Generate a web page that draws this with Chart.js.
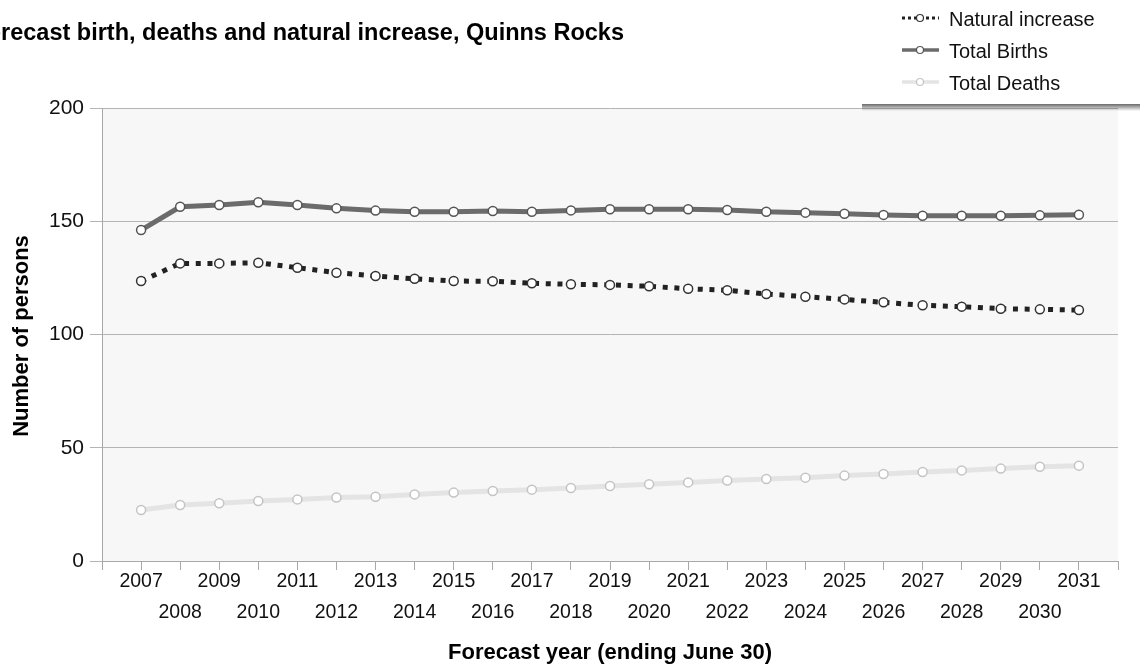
<!DOCTYPE html>
<html>
<head>
<meta charset="utf-8">
<title>Forecast birth, deaths and natural increase, Quinns Rocks</title>
<script src="https://cdn.jsdelivr.net/npm/chart.js@4/dist/chart.umd.min.js"></script>
<style>
  html, body { margin: 0; padding: 0; background: #fff; }
  #wrap { position: relative; width: 1145px; height: 670px; }
</style>
</head>
<body>
<div id="wrap"><canvas id="chart"></canvas></div>
<script>
// forecast years (ending June 30)
const years = [2007, 2008, 2009, 2010, 2011, 2012, 2013, 2014, 2015, 2016, 2017, 2018, 2019,
               2020, 2021, 2022, 2023, 2024, 2025, 2026, 2027, 2028, 2029, 2030, 2031];

const naturalIncrease = [123.6, 131.4, 131.4, 131.7, 129.5, 127.3, 125.8, 124.6, 123.6, 123.5, 122.6, 122.2, 121.9,
                         121.3, 120.2, 119.5, 117.9, 116.7, 115.5, 114.2, 112.9, 112.3, 111.4, 111.1, 110.8];
const totalBirths = [146.1, 156.4, 157.2, 158.4, 157.2, 155.7, 154.7, 154.2, 154.2, 154.5, 154.2, 154.8, 155.3,
                     155.3, 155.3, 155.0, 154.2, 153.8, 153.3, 152.8, 152.4, 152.4, 152.4, 152.6, 152.9];
const totalDeaths = [22.5, 24.7, 25.5, 26.5, 27.2, 28.0, 28.4, 29.4, 30.2, 30.9, 31.5, 32.2, 33.1,
                     33.9, 34.7, 35.5, 36.2, 36.8, 37.7, 38.4, 39.3, 40.0, 40.8, 41.6, 42.1];

const seriesNames = ['Natural increase', 'Total Births', 'Total Deaths'];
const yTicks = [0, 50, 100, 150, 200];

const chartTitle = 'Forecast birth, deaths and natural increase, Quinns Rocks';
const xTitle = 'Forecast year (ending June 30)';
const yTitle = 'Number of persons';

const FONT = '"Liberation Sans", Arial, sans-serif';

const toPoints = values => values.map((v, i) => ({x: years[i], y: v}));

// grey plot background
const plotBackground = {
    id: 'plotBackground',
    beforeDraw(chart) {
        const {ctx, chartArea: a} = chart;
        ctx.save();
        ctx.fillStyle = '#f7f7f7';
        ctx.fillRect(a.left, a.top, a.right - a.left, a.bottom - a.top);
        ctx.restore();
    }
};

// title, axis titles
const titles = {
    id: 'titles',
    afterDraw(chart) {
        const ctx = chart.ctx;
        ctx.save();
        ctx.fillStyle = '#000';
        ctx.font = 'bold 23.5px ' + FONT;
        ctx.textAlign = 'right';
        ctx.textBaseline = 'alphabetic';
        ctx.fillText(chartTitle, 624, 40);

        ctx.font = 'bold 22px ' + FONT;
        ctx.textAlign = 'center';
        ctx.fillText(xTitle, 610, 659);

        ctx.translate(28, 336);
        ctx.rotate(-Math.PI / 2);
        ctx.fillText(yTitle, 0, 0);
        ctx.restore();
    }
};

// legend box in the top right corner
const legendBox = {
    id: 'legendBox',
    afterDraw(chart) {
        const ctx = chart.ctx;
        ctx.save();
        ctx.fillStyle = '#fff';
        ctx.fillRect(862, 0, 283, 105);
        const g = ctx.createLinearGradient(0, 104, 0, 111);
        g.addColorStop(0, 'rgba(90,90,90,0.9)');
        g.addColorStop(1, 'rgba(90,90,90,0)');
        ctx.fillStyle = g;
        ctx.fillRect(862, 104, 278, 7);
        ctx.restore();

        chart.data.datasets.forEach((ds, i) => {
            const y = 18 + 32 * i;
            ctx.save();
            ctx.strokeStyle = ds.borderColor;
            ctx.lineWidth = i === 0 ? 3 : 3.5;
            ctx.setLineDash(i === 0 ? [3, 3] : []);
            ctx.beginPath();
            ctx.moveTo(902, y);
            ctx.lineTo(939, y);
            ctx.stroke();
            ctx.setLineDash([]);
            ctx.beginPath();
            ctx.arc(920, y, 3.5, 0, Math.PI * 2);
            ctx.fillStyle = '#fff';
            ctx.fill();
            ctx.lineWidth = 1.2;
            ctx.strokeStyle = ds.pointBorderColor;
            ctx.stroke();

            ctx.fillStyle = '#111';
            ctx.font = '20px ' + FONT;
            ctx.textAlign = 'left';
            ctx.textBaseline = 'alphabetic';
            ctx.fillText(seriesNames[i], 949, y + 7.5);
            ctx.restore();
        });
    }
};

const datasets = [
    {
        label: seriesNames[0],
        data: toPoints(naturalIncrease),
        borderColor: '#222',
        borderWidth: 5,
        borderDash: [5, 6.7],
        pointBorderColor: '#333'
    },
    {
        label: seriesNames[1],
        data: toPoints(totalBirths),
        borderColor: '#6b6b6b',
        borderWidth: 5,
        pointBorderColor: '#555'
    },
    {
        label: seriesNames[2],
        data: toPoints(totalDeaths),
        borderColor: '#e4e4e4',
        borderWidth: 5,
        pointBorderColor: '#c4c4c4'
    }
].map(ds => Object.assign({
    tension: 0,
    fill: false,
    pointRadius: 4.5,
    pointBorderWidth: 1.5,
    pointBackgroundColor: '#fff'
}, ds));

new Chart(document.getElementById('chart'), {
    type: 'line',
    data: {datasets},
    options: {
        responsive: true,
        maintainAspectRatio: false,
        animation: false,
        layout: {padding: {top: 108, right: 27, left: 0, bottom: 0}},
        plugins: {
            legend: {display: false},
            title: {display: false},
            tooltip: {enabled: false}
        },
        scales: {
            x: {
                type: 'linear',
                min: years[0] - 1,
                max: years[years.length - 1] + 1,
                afterFit: s => { s.height = 109; },
                border: {display: true, color: '#a8a8a8'},
                grid: {drawOnChartArea: false, drawTicks: true, tickLength: 9, color: '#a8a8a8'},
                ticks: {
                    stepSize: 1,
                    autoSkip: false,
                    maxRotation: 0,
                    minRotation: 0,
                    padding: -3.5,
                    color: '#111',
                    font: {family: FONT, size: 19.5, lineHeight: '31px'},
                    callback: v => {
                        if (!years.includes(v)) return ['', ''];
                        return v % 2 === 1 ? [String(v), ''] : ['', String(v)];
                    }
                }
            },
            y: {
                min: yTicks[0],
                max: yTicks[yTicks.length - 1],
                afterFit: s => { s.width = 102; },
                afterBuildTicks: s => { s.ticks = yTicks.map(v => ({value: v})); },
                border: {display: true, color: '#a8a8a8'},
                grid: {color: '#b4b4b4', tickLength: 12},
                ticks: {
                    padding: 6,
                    color: '#111',
                    font: {family: FONT, size: 21}
                }
            }
        }
    },
    plugins: [plotBackground, titles, legendBox]
});
</script>
</body>
</html>
